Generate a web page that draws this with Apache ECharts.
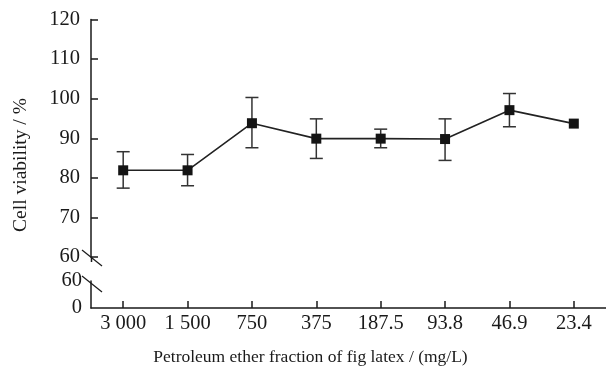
<!DOCTYPE html>
<html>
<head>
<meta charset="utf-8">
<script src="https://cdn.jsdelivr.net/npm/echarts@6/dist/echarts.min.js"></script>
<style>
  html, body { margin: 0; padding: 0; background: #fff; }
  #chart { width: 606px; height: 374px; }
</style>
</head>
<body>
<div id="chart"></div>
<script>
// concentrations (mg/L), from high to low
const categories = ['3 000', '1 500', '750', '375', '187.5', '93.8', '46.9', '23.4'];
// mean cell viability (%)
const viability = [81.9, 81.9, 93.8, 89.9, 89.9, 89.8, 97.1, 93.7];
// error bar ends (%), null = no bar
const errLow = [77.4, 78.0, 87.6, 84.9, 87.6, 84.4, 92.9, null];
const errHigh = [86.6, 85.9, 100.3, 94.9, 92.3, 94.9, 101.3, null];
// axis ticks
const upperTicks = [60, 120, 10];  // min, max, step (upper part)
const lowerTicks = [0, 60];        // lower part below the break

const FONT = 'Liberation Serif, "Times New Roman", serif';
const INK = '#1a1a1a';

const chart = echarts.init(document.getElementById('chart'), null, { renderer: 'canvas' });

const errData = [];
categories.forEach((c, i) => {
    if (errLow[i] != null) errData.push([i, errLow[i], errHigh[i]]);
});

const renderErr = (params, api) => {
    const lo = api.coord([api.value(0), api.value(1)]);
    const hi = api.coord([api.value(0), api.value(2)]);
    const hw = 6.5;
    const style = { stroke: '#333', lineWidth: 1.5 };
    return {
        type: 'group',
        children: [
            { type: 'line', shape: { x1: lo[0], y1: lo[1], x2: hi[0], y2: hi[1] }, style },
            { type: 'line', shape: { x1: hi[0] - hw, y1: hi[1], x2: hi[0] + hw, y2: hi[1] }, style },
            { type: 'line', shape: { x1: lo[0] - hw, y1: lo[1], x2: lo[0] + hw, y2: lo[1] }, style }
        ]
    };
};

const axisLine = { show: true, lineStyle: { color: INK, width: 1.5 } };
const labelStyle = { color: INK, fontFamily: FONT, fontSize: 20.5 };

const option = {
    backgroundColor: '#fff',
    animation: false,
    grid: [
        { left: 91, top: 19.5, width: 521, height: 237.5 },
        { left: 91, top: 281, width: 521, height: 27 }
    ],
    xAxis: [
        { gridIndex: 0, type: 'category', data: categories, show: false },
        {
            gridIndex: 1, type: 'category', data: categories,
            axisLine: axisLine,
            axisTick: { show: true, inside: true, length: 7, alignWithLabel: true, lineStyle: { color: INK, width: 1.5 } },
            axisLabel: Object.assign({ interval: 0, margin: 5 }, labelStyle),
            splitLine: { show: false }
        }
    ],
    yAxis: [
        {
            gridIndex: 0, type: 'value',
            min: upperTicks[0], max: upperTicks[1], interval: upperTicks[2],
            axisLine: axisLine,
            axisTick: { show: true, inside: true, length: 7, lineStyle: { color: INK, width: 1.5 } },
            axisLabel: Object.assign({ margin: 11 }, labelStyle),
            splitLine: { show: false }
        },
        {
            gridIndex: 1, type: 'value',
            min: lowerTicks[0], max: lowerTicks[1], interval: lowerTicks[1] - lowerTicks[0],
            axisLine: axisLine,
            axisTick: { show: false },
            axisLabel: Object.assign({ margin: 9 }, labelStyle),
            splitLine: { show: false }
        }
    ],
    series: [
        {
            type: 'custom',
            xAxisIndex: 0, yAxisIndex: 0,
            data: errData,
            renderItem: renderErr,
            z: 2
        },
        {
            type: 'line',
            xAxisIndex: 0, yAxisIndex: 0,
            data: viability,
            symbol: 'rect',
            symbolSize: 10,
            lineStyle: { color: '#222', width: 1.6 },
            itemStyle: { color: '#141414' },
            z: 3
        }
    ],
    graphic: [
        // axis break marks
        { type: 'line', shape: { x1: 91.5, y1: 257, x2: 91.5, y2: 262 }, style: { stroke: INK, lineWidth: 1.5 } },
        { type: 'line', shape: { x1: 82, y1: 250, x2: 102, y2: 266 }, style: { stroke: INK, lineWidth: 1.3 } },
        { type: 'line', shape: { x1: 82, y1: 276, x2: 102, y2: 292 }, style: { stroke: INK, lineWidth: 1.3 } },
        // axis names
        {
            type: 'text', x: 21, y: 165, rotation: Math.PI / 2,
            style: { text: 'Cell viability / %', font: '19.5px ' + FONT, fill: INK, textAlign: 'center', textVerticalAlign: 'middle' }
        },
        {
            type: 'text', x: 310.5, y: 357,
            style: { text: 'Petroleum ether fraction of fig latex / (mg/L)', font: '17.5px ' + FONT, fill: INK, textAlign: 'center', textVerticalAlign: 'middle' }
        }
    ]
};

chart.setOption(option);
</script>
</body>
</html>
